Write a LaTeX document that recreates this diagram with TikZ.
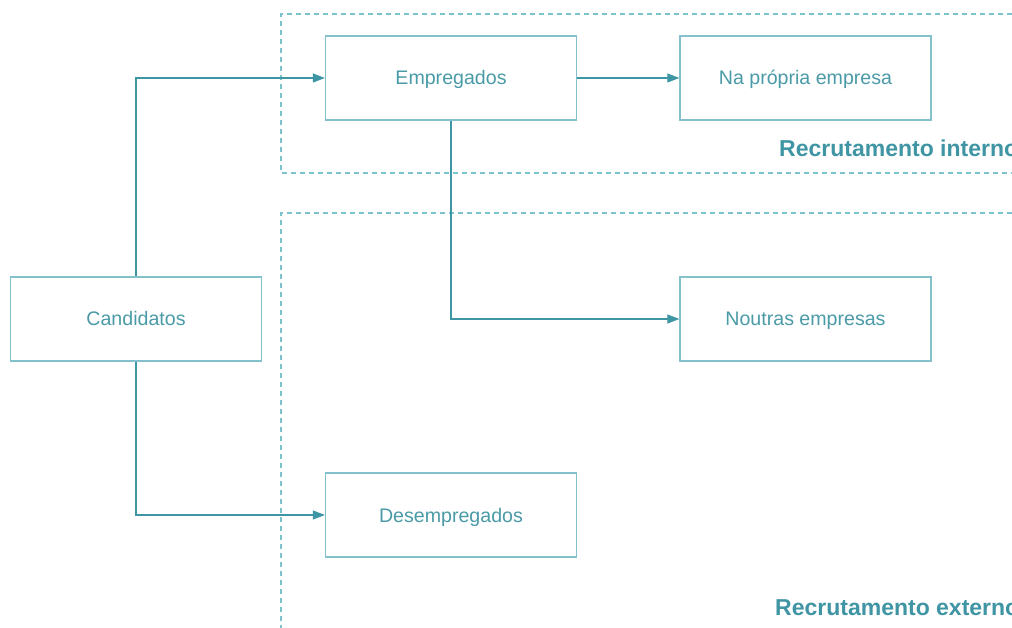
\documentclass[tikz,border=0pt]{standalone}
\usepackage{fontspec}
\setmainfont{Liberation Sans}
\usetikzlibrary{arrows.meta}
\definecolor{boxline}{HTML}{84C1CC}
\definecolor{boxtext}{HTML}{4A9BA7}
\definecolor{arrowc}{HTML}{3E96A4}
\definecolor{dashc}{HTML}{7CC3CE}
\definecolor{headc}{HTML}{3F95A3}
\tikzset{
  stepbox/.style={draw=boxline, line width=1.3pt, minimum width=251pt, minimum height=84pt, inner sep=0pt,
    text=boxtext, font=\fontsize{19.6}{22}\selectfont, text depth=0pt, text height=14pt},
  conn/.style={draw=arrowc, line width=1.1pt, -{Triangle[length=12pt,width=9pt]}},
  region/.style={draw=dashc, line width=1.2pt, dash pattern=on 5pt off 4pt},
  head/.style={text=headc, font=\fontsize{23}{27}\selectfont\bfseries, inner sep=0pt, anchor=base west}
}
\begin{document}
\begin{tikzpicture}[x=1pt,y=-1pt]
\useasboundingbox (0,0) rectangle (1012,628);
\clip (0,0) rectangle (1012,628);
\fill[white] (0,0) rectangle (1012,628);
\draw[region] (1030,14) -- (281,14) -- (281,173) -- (1030,173);
\draw[region] (1030,213) -- (281,213) -- (281,650);
\node[stepbox] (cand) at (136,319) {Candidatos};
\node[stepbox] (emp) at (451,78) {Empregados};
\node[stepbox] (prop) at (805.5,78) {Na própria empresa};
\node[stepbox] (nout) at (805.5,319) {Noutras empresas};
\node[stepbox] (desemp) at (451,515) {Desempregados};
\node[head] (hint) at (779,157) {Recrutamento interno};
\node[head] (hext) at (775,615) {Recrutamento externo};
\draw[conn] (cand.north) |- (emp.west);
\draw[conn] (cand.south) |- (desemp.west);
\draw[conn] (emp.east) -- (prop.west);
\draw[conn] (emp.south) |- (nout.west);
\end{tikzpicture}
\end{document}
